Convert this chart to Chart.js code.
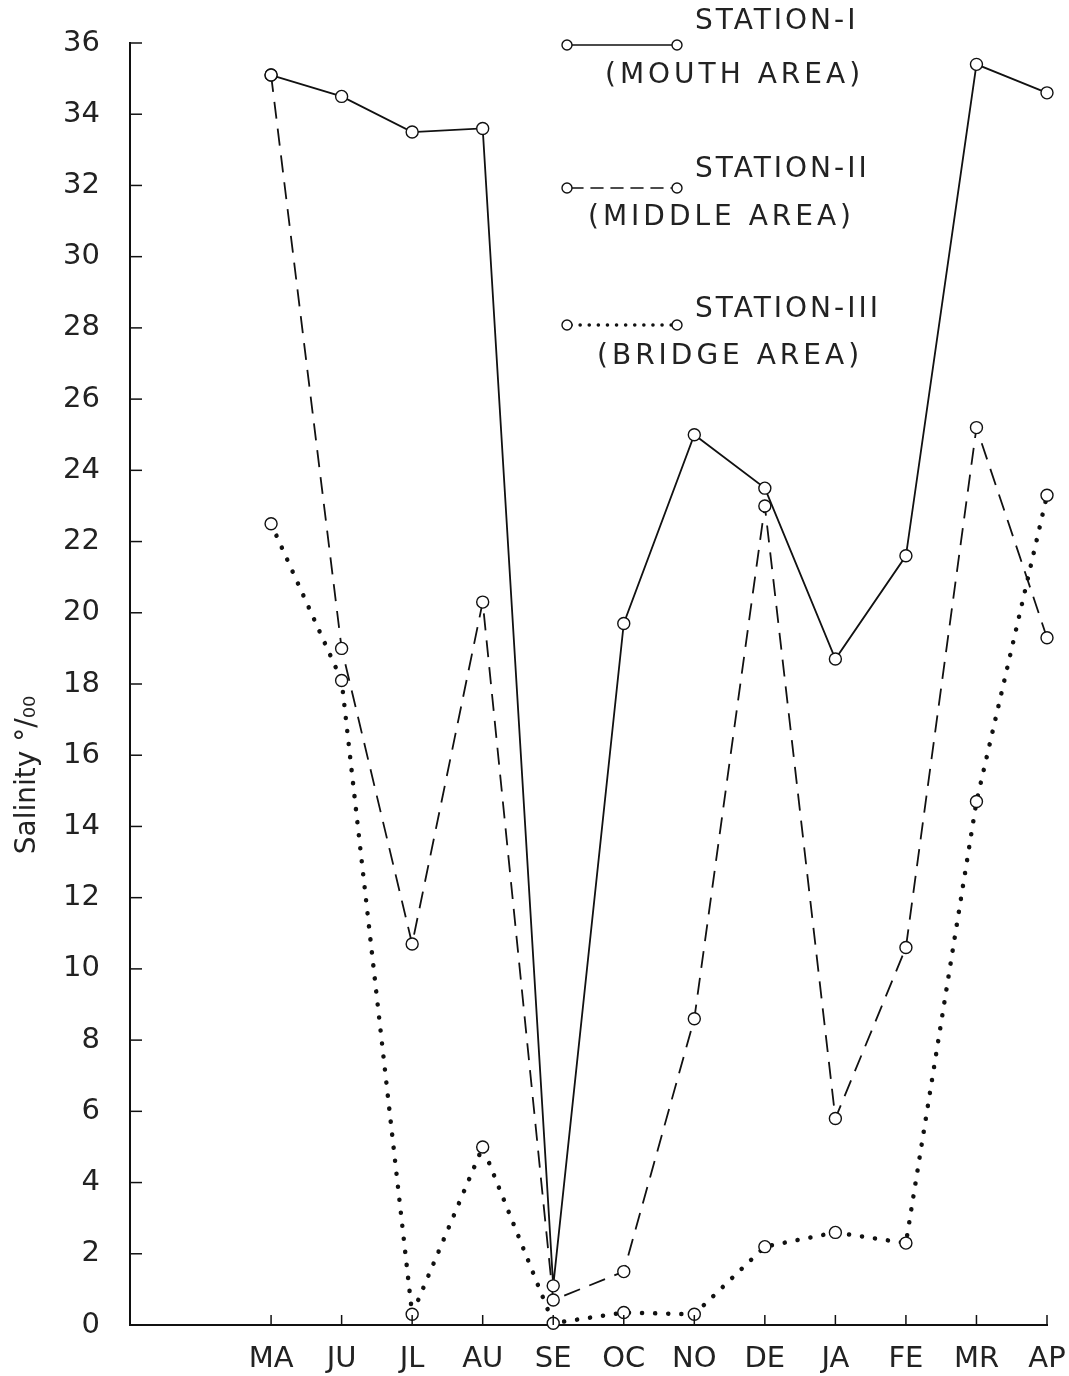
<!DOCTYPE html>
<html>
<head>
<meta charset="utf-8">
<script src="https://cdn.jsdelivr.net/npm/chart.js@4"></script>
<style>
  html, body { margin: 0; padding: 0; background: #fff; }
  #wrap { width: 1069px; height: 1376px; position: relative; }
</style>
</head>
<body>
<div id="wrap"><canvas id="myChart"></canvas></div>
<script>
// months (two empty slots before MA, as on the original axis)
let months = ['', '', 'MA', 'JU', 'JL', 'AU', 'SE', 'OC', 'NO', 'DE', 'JA', 'FE', 'MR', 'AP'];
let station1 = [null, null, 35.1, 34.5, 33.5, 33.6, 1.1, 19.7, 25.0, 23.5, 18.7, 21.6, 35.4, 34.6];
let station2 = [null, null, 35.1, 19.0, 10.7, 20.3, 0.7, 1.5, 8.6, 23.0, 5.8, 10.6, 25.2, 19.3];
let station3 = [null, null, 22.5, 18.1, 0.3, 5.0, 0.05, 0.35, 0.3, 2.2, 2.6, 2.3, 14.7, 23.3];
let yMin = 0, yMax = 36, yStep = 2;
let yTitle = 'Salinity °/₀₀';

let legendItems = [
  { top: 'STATION-I', bottom: '(MOUTH AREA)', dash: [], width: 1.6, y: 45, ty: 22, by: 76, bx: 605 },
  { top: 'STATION-II', bottom: '(MIDDLE AREA)', dash: [12, 8], width: 1.6, y: 188, ty: 170, by: 218, bx: 588 },
  { top: 'STATION-III', bottom: '(BRIDGE AREA)', dash: [0.1, 9], width: 3.5, y: 325, ty: 310, by: 357, bx: 597 }
];

const inkColor = '#111';
const textColor = '#222';

// small tick marks pointing into the plot, like the hand drawn axes
const innerTicks = {
  id: 'innerTicks',
  afterDraw(chart) {
    const c = chart.ctx;
    const xs = chart.scales.x, ys = chart.scales.y;
    c.save();
    c.strokeStyle = inkColor;
    c.lineWidth = 1.5;
    for (let v = yMin; v <= yMax; v += yStep) {
      const py = ys.getPixelForValue(v);
      c.beginPath();
      c.moveTo(xs.left, py);
      c.lineTo(xs.left + 12, py);
      c.stroke();
    }
    months.forEach((m, i) => {
      if (m === '') return;
      const px = xs.getPixelForValue(i);
      c.beginPath();
      c.moveTo(px, ys.bottom);
      c.lineTo(px, ys.bottom - 10);
      c.stroke();
    });
    // y axis title, sitting a bit below the middle like the original
    c.translate(28, 775);
    c.rotate(-Math.PI / 2);
    c.fillStyle = textColor;
    c.font = '28px "DejaVu Sans"';
    c.textAlign = 'center';
    c.textBaseline = 'middle';
    c.fillText(yTitle, 0, 0);
    c.restore();
  }
};

const stationLegend = {
  id: 'stationLegend',
  afterDraw(chart) {
    const c = chart.ctx;
    c.save();
    legendItems.forEach(it => {
      c.strokeStyle = inkColor;
      c.lineWidth = it.width;
      c.lineCap = 'round';
      c.setLineDash(it.dash);
      c.beginPath();
      c.moveTo(571, it.y);
      c.lineTo(672, it.y);
      c.stroke();
      c.setLineDash([]);
      c.lineWidth = 1.4;
      [567, 677].forEach(cx => {
        c.beginPath();
        c.arc(cx, it.y, 5, 0, Math.PI * 2);
        c.fillStyle = '#fff';
        c.fill();
        c.stroke();
      });
      c.fillStyle = textColor;
      c.font = '28px "DejaVu Sans"';
      c.letterSpacing = '3px';
      c.textBaseline = 'middle';
      c.textAlign = 'left';
      c.fillText(it.top, 695, it.ty);
      c.letterSpacing = '4px';
      c.fillText(it.bottom, it.bx, it.by);
      c.letterSpacing = '0px';
    });
    c.restore();
  }
};

const ctx = document.getElementById('myChart');
let chart = new Chart(ctx, {
  type: 'line',
  data: {
    labels: months,
    datasets: [
      {
        label: 'STATION-I (MOUTH AREA)',
        data: station1,
        borderColor: inkColor,
        borderWidth: 1.8,
        pointRadius: 6,
        pointBorderWidth: 1.4,
        pointBackgroundColor: '#fff',
        pointBorderColor: inkColor,
        tension: 0,
        clip: 12
      },
      {
        label: 'STATION-II (MIDDLE AREA)',
        data: station2,
        borderColor: inkColor,
        borderWidth: 1.8,
        borderDash: [17, 10],
        pointRadius: 6,
        pointBorderWidth: 1.4,
        pointBackgroundColor: '#fff',
        pointBorderColor: inkColor,
        tension: 0,
        clip: 12
      },
      {
        label: 'STATION-III (BRIDGE AREA)',
        data: station3,
        borderColor: inkColor,
        borderWidth: 4.5,
        borderDash: [0.1, 13],
        borderCapStyle: 'round',
        pointRadius: 6,
        pointBorderWidth: 1.4,
        pointBackgroundColor: '#fff',
        pointBorderColor: inkColor,
        tension: 0,
        clip: 12
      }
    ]
  },
  options: {
    responsive: true,
    maintainAspectRatio: false,
    animation: false,
    layout: { padding: { top: 43, right: 22, left: 0, bottom: 0 } },
    plugins: {
      legend: { display: false },
      tooltip: { enabled: false }
    },
    scales: {
      x: {
        offset: false,
        grid: { display: false, drawTicks: false },
        border: { display: true, color: inkColor, width: 2 },
        ticks: {
          color: textColor,
          font: { family: 'DejaVu Sans', size: 29 },
          padding: 17,
          autoSkip: false,
          maxRotation: 0
        },
        afterFit(s) {
          s.height = 51;
          s.paddingLeft = 0;
          s.paddingRight = 0;
        }
      },
      y: {
        min: yMin,
        max: yMax,
        grid: { display: false, drawTicks: false },
        border: { display: true, color: inkColor, width: 2 },
        ticks: {
          stepSize: yStep,
          color: textColor,
          font: { family: 'DejaVu Sans', size: 29 },
          padding: 30
        },
        afterFit(s) {
          s.width = 130;
          s.paddingTop = 0;
          s.paddingBottom = 0;
        }
      }
    }
  },
  plugins: [innerTicks, stationLegend]
});
</script>
</body>
</html>
